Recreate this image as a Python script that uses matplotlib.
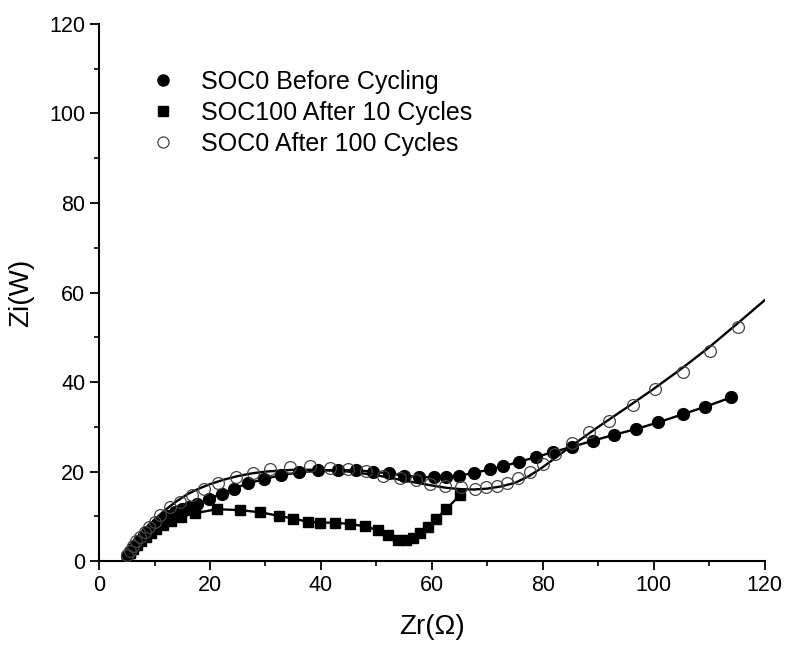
import numpy as np
import matplotlib.pyplot as plt
from matplotlib.lines import Line2D
from matplotlib.ticker import MultipleLocator

plt.rcParams['font.family'] = ['Liberation Sans', 'DejaVu Sans']

# SOC0 before cycling (filled circles)
before_x = [5, 5.5, 6, 6.6, 7.2, 7.9, 8.7, 9.5, 10.4, 11.4, 12.5, 13.7, 15, 16.3, 17.6,
            19.8, 22.1, 24.3, 26.9, 29.7, 32.8, 36, 39.5, 43.1, 46.3, 49.3, 52.3, 54.9,
            57.7, 60.4, 62.6, 64.9, 67.6, 70.5, 72.9, 75.7, 78.7, 81.9, 85.2, 89, 92.8,
            96.8, 100.8, 105.2, 109.3, 114]
before_y = [1.2, 2, 2.8, 3.7, 4.6, 5.5, 6.5, 7.4, 8.3, 9.2, 10, 10.9, 11.6, 12.2, 12.7,
            13.9, 15.1, 16.2, 17.4, 18.3, 19.2, 19.8, 20.3, 20.3, 20.3, 20, 19.6, 19.1,
            18.8, 18.7, 18.9, 19.1, 19.7, 20.5, 21.2, 22.2, 23.2, 24.4, 25.5, 26.9, 28.2,
            29.5, 31, 32.8, 34.5, 36.6]

# SOC100 after 10 cycles (squares)
soc100_x = [5, 5.6, 6.2, 6.9, 7.6, 8.4, 9.3, 10.3, 11.5, 13, 14.8, 17.3, 21.2, 25.4,
            29.1, 32.5, 35, 37.7, 39.8, 42.5, 45.2, 47.9, 50.3, 52.1, 53.9, 55.4, 56.6,
            57.9, 59.3, 60.7, 62.6, 65]
soc100_y = [1, 1.8, 2.7, 3.6, 4.5, 5.4, 6.3, 7.2, 8.1, 9, 9.9, 10.7, 11.6, 11.4, 10.9,
            10.1, 9.5, 8.8, 8.6, 8.6, 8.3, 7.8, 6.9, 5.8, 4.8, 4.7, 5.1, 6.3, 7.7, 9.4,
            11.6, 14.7]

# SOC0 after 100 cycles (open circles)
after_x = [5, 5.5, 6.1, 6.7, 7.4, 8.2, 9, 10, 11, 12.8, 14.6, 16.7, 19, 21.5, 24.7,
           27.8, 30.8, 34.4, 38, 41.6, 44.9, 48.2, 51.2, 54.2, 57.2, 59.6, 62.3, 65.2,
           67.7, 69.8, 71.7, 73.5, 75.6, 77.7, 80.1, 82.2, 85.2, 88.3, 92, 96.2, 100.2,
           105.2, 110.1, 115.2]
after_y = [1.3, 2.3, 3.3, 4.4, 5.5, 6.6, 7.7, 8.8, 10.3, 12.1, 13.3, 14.7, 16.2, 17.4,
           18.7, 19.7, 20.5, 21.1, 21.2, 20.9, 20.6, 20.2, 19, 18.6, 18.1, 17.2, 16.8,
           16.6, 16.2, 16.5, 16.8, 17.4, 18.5, 20, 21.8, 23.9, 26.3, 28.9, 31.4, 34.8,
           38.4, 42.2, 47, 52.2]

# fitted curve for the open circles
fit_x = [5, 6.5, 8, 10, 12, 14, 16, 18, 20, 22.5, 25, 27.5, 30, 35, 40, 45, 50, 55, 60,
         62.5, 65, 67.5, 70, 72.5, 75, 77.5, 80, 85, 90, 95, 100, 105, 110, 115, 120]
fit_y = [1, 4, 6.5, 9.3, 11.5, 13.4, 15, 16.2, 17.2, 18.2, 19, 19.6, 20, 20.4, 20.4, 20,
         19.2, 18, 16.9, 16.4, 16.1, 16, 16.2, 16.7, 17.5, 19, 21, 25.6, 30, 34.2,
         38.5, 43, 47.8, 53, 58.3]

fig = plt.figure(figsize=(7.86, 6.45), dpi=100)
ax = fig.add_axes([0.126, 0.130, 0.847, 0.833])

ax.plot(fit_x, fit_y, color='black', lw=1.7, zorder=2)
ax.plot(before_x, before_y, color='black', lw=1.7, marker='o', ms=8.5,
        mfc='black', mec='black', zorder=3)
ax.plot(soc100_x, soc100_y, color='black', lw=1.7, marker='s', ms=7.5,
        mfc='black', mec='black', zorder=3)
ax.plot(after_x, after_y, ls='none', marker='o', ms=8.5, mfc='none',
        mec='#444444', mew=0.9, zorder=4)

ax.set_xlim(0, 120)
ax.set_ylim(0, 120)
ax.xaxis.set_major_locator(MultipleLocator(20))
ax.xaxis.set_minor_locator(MultipleLocator(10))
ax.yaxis.set_major_locator(MultipleLocator(20))
ax.yaxis.set_minor_locator(MultipleLocator(10))
ax.spines['top'].set_visible(False)
ax.spines['right'].set_visible(False)
for s in ['left', 'bottom']:
    ax.spines[s].set_linewidth(1.5)
ax.tick_params(which='major', direction='out', length=6.5, width=1.3, labelsize=15.5)
ax.tick_params(which='minor', direction='out', length=3.5, width=1.2)

ax.set_xlabel('Zr(Ω)', fontsize=20, labelpad=13)
ax.set_ylabel('Zi(W)', fontsize=20, labelpad=11)

handles = [
    Line2D([], [], ls='none', marker='o', ms=8, mfc='black', mec='black'),
    Line2D([], [], ls='none', marker='s', ms=7, mfc='black', mec='black'),
    Line2D([], [], ls='none', marker='o', ms=8, mfc='none', mec='#444444', mew=0.9),
]
labels = ['SOC0 Before Cycling', 'SOC100 After 10 Cycles', 'SOC0 After 100 Cycles']
ax.legend(handles, labels, loc='upper left', bbox_to_anchor=(0.044, 0.956),
          frameon=False, fontsize=18, handletextpad=1.0, labelspacing=0.28,
          handlelength=1.0)

fig.savefig('out.png', dpi=100)
